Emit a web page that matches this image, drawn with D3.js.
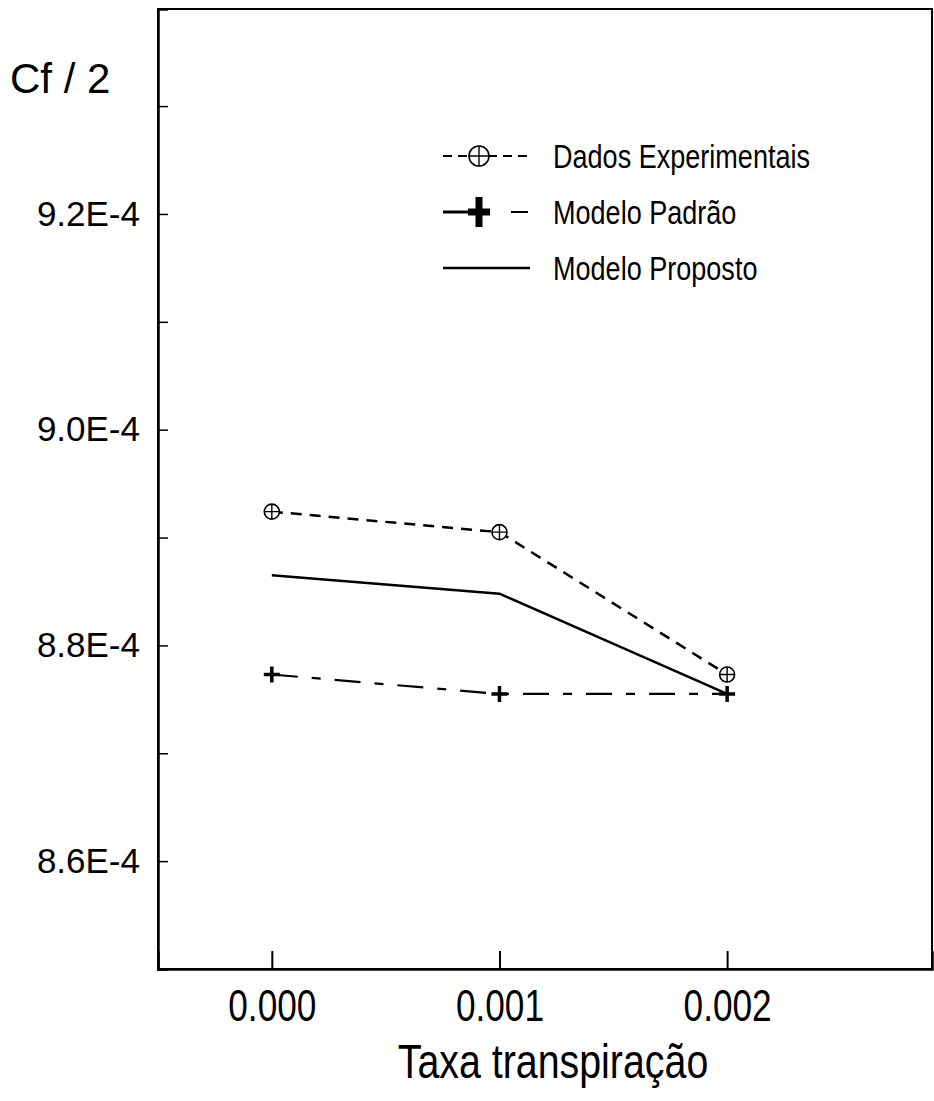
<!DOCTYPE html>
<html>
<head>
<meta charset="utf-8">
<script src="https://cdn.jsdelivr.net/npm/d3@7"></script>
<style>
  body { margin: 0; background: #fff; }
  svg { display: block; font-family: "Liberation Sans", Arial, sans-serif; }
</style>
</head>
<body>
<div id="graph"></div>
<script>
// Cf/2 vs taxa de transpiração
const xValues = [0.000, 0.001, 0.002];
const dadosExperimentais = [8.924e-4, 8.905e-4, 8.773e-4];
const modeloPadrao = [8.773e-4, 8.755e-4, 8.755e-4];
const modeloProposto = [8.865e-4, 8.848e-4, 8.755e-4];
const seriesNames = ["Dados Experimentais", "Modelo Padrão", "Modelo Proposto"];

const xTicks = [0.000, 0.001, 0.002];
const xTickLabels = ["0.000", "0.001", "0.002"];
const yTicks = [8.6e-4, 8.7e-4, 8.8e-4, 8.9e-4, 9.0e-4, 9.1e-4, 9.2e-4, 9.3e-4];
const yTickLabels = ["8.6E-4", "", "8.8E-4", "", "9.0E-4", "", "9.2E-4", ""];

const width = 934, height = 1101;
const margin = {top: 9, right: 2, bottom: 132, left: 158};
const w = width - margin.left - margin.right;
const h = height - margin.top - margin.bottom;

let svg = d3.select("#graph")
    .append("svg")
    .attr("width", width)
    .attr("height", height);

svg.append("rect").attr("width", width).attr("height", height).attr("fill", "#fff");

let g = svg.append("g")
    .attr("transform", `translate(${margin.left}, ${margin.top})`);

let x = d3.scaleLinear()
    .domain([-0.0005, 0.0029])
    .range([0, w]);

let y = d3.scaleLinear()
    .domain([8.5e-4, 9.39e-4])
    .range([h, 0]);

// frame
g.append("rect")
    .attr("width", w)
    .attr("height", h)
    .attr("fill", "none")
    .attr("stroke", "#000")
    .attr("stroke-width", 2);

let yAxis = g.append("g")
    .call(d3.axisLeft(y)
        .tickValues(yTicks)
        .tickSize(-10)
        .tickPadding(18)
        .tickFormat(function(d, i) { return yTickLabels[i]; }));
yAxis.select(".domain").attr("stroke-width", 2.5);
yAxis.selectAll(".tick line").attr("stroke-width", 1.5);
yAxis.selectAll("text")
    .style("font-size", "35px")
    .attr("fill", "#000");

let xAxis = g.append("g")
    .attr("transform", `translate(0, ${h})`)
    .call(d3.axisBottom(x)
        .tickValues(xTicks)
        .tickSize(-18)
        .tickPadding(21)
        .tickFormat(function(d, i) { return xTickLabels[i]; }));
xAxis.select(".domain").attr("stroke-width", 2.5);
xAxis.selectAll(".tick line").attr("stroke-width", 2);
xAxis.selectAll("text")
    .style("font-size", "44px")
    .attr("fill", "#000")
    .attr("transform", "scale(0.8,1)");

svg.append("text")
    .attr("transform", `translate(553, 1078) scale(0.82,1)`)
    .style("text-anchor", "middle")
    .style("font-size", "48px")
    .text("Taxa transpiração");

svg.append("text")
    .attr("x", 10)
    .attr("y", 93)
    .style("font-size", "42px")
    .text("Cf / 2");

function plusPath(cx, cy, hw, hh) {
    return `M${cx - hw},${cy}H${cx + hw}M${cx},${cy - hh}V${cy + hh}`;
}

function circlePlus(sel, cx, cy, r) {
    sel.append("circle")
        .attr("cx", cx).attr("cy", cy).attr("r", r)
        .attr("fill", "#fff").attr("stroke", "#000").attr("stroke-width", 1.6);
    sel.append("path")
        .attr("d", plusPath(cx, cy, r, r))
        .attr("stroke", "#000").attr("stroke-width", 1.4);
}

let line = d3.line()
    .x(function(d) { return x(d[0]); })
    .y(function(d) { return y(d[1]); });

let series = [
    {name: seriesNames[0], values: dadosExperimentais, dash: "11,8", sw: 2.5},
    {name: seriesNames[1], values: modeloPadrao, dash: "26,14,9,14", sw: 2.2},
    {name: seriesNames[2], values: modeloProposto, dash: null, sw: 2.5}
];

series.forEach(function(s) {
    g.append("path")
        .datum(xValues.map(function(v, i) { return [v, s.values[i]]; }))
        .attr("d", line)
        .attr("fill", "none")
        .attr("stroke", "#000")
        .attr("stroke-width", s.sw)
        .attr("stroke-dasharray", s.dash);
});

// markers
let markers = g.append("g");
modeloPadrao.forEach(function(v, i) {
    markers.append("path")
        .attr("d", plusPath(x(xValues[i]), y(v), 8, 8))
        .attr("stroke", "#000")
        .attr("stroke-width", 3.5);
});
dadosExperimentais.forEach(function(v, i) {
    circlePlus(markers, x(xValues[i]), y(v), 7.5);
});

// legend
let legend = svg.append("g");
series.forEach(function(s, i) {
    let ly = 156 + i * 56;
    let row = legend.append("g");
    if (i === 0) {
        row.append("path")
            .attr("d", `M443,${ly}H527`)
            .attr("stroke", "#000").attr("stroke-width", 2)
            .attr("stroke-dasharray", "9,6");
        circlePlus(row, 479, ly, 10);
    } else if (i === 1) {
        row.append("path").attr("d", `M443,${ly}H470`)
            .attr("stroke", "#000").attr("stroke-width", 3);
        row.append("path").attr("d", `M511,${ly}H528`)
            .attr("stroke", "#000").attr("stroke-width", 2);
        row.append("path").attr("d", plusPath(479, ly, 11, 15))
            .attr("stroke", "#000").attr("stroke-width", 7);
    } else {
        row.append("path").attr("d", `M443,${ly}H530`)
            .attr("stroke", "#000").attr("stroke-width", 2.5);
    }
    row.append("text")
        .attr("transform", `translate(553, ${ly + 12}) scale(0.82,1)`)
        .style("font-size", "33px")
        .text(s.name);
});
</script>
</body>
</html>
